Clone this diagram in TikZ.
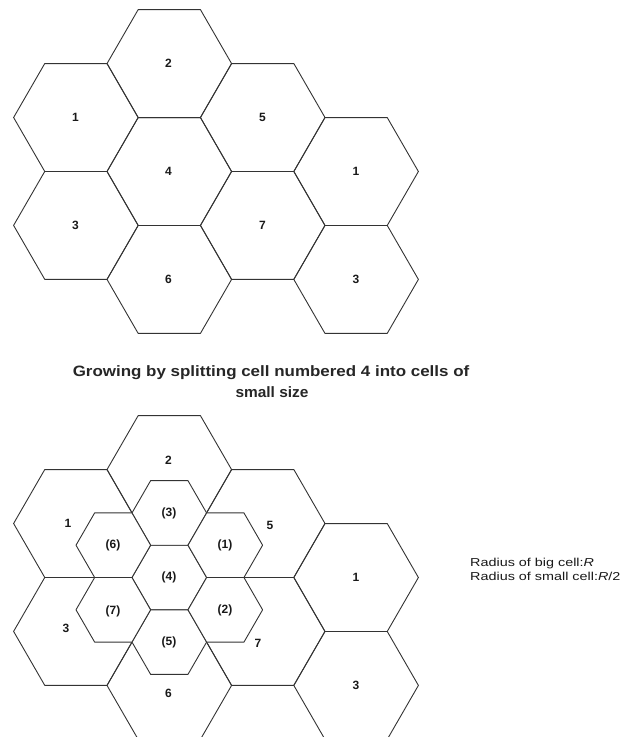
\documentclass[tikz,border=0pt]{standalone}
\usepackage{fontspec}
\setmainfont{Liberation Sans}
\usepackage{graphicx}
\begin{document}
\begin{tikzpicture}[x=1pt,y=-1pt,
  hexline/.style={draw=black!80, line width=0.9pt, line join=round},
  smallhex/.style={hexline, fill=white},
  lbl/.style={font=\fontsize{12}{12}\selectfont\bfseries, inner sep=0pt, text=black!90},
  captxt/.style={font=\fontsize{15}{15}\selectfont\bfseries, inner sep=0pt, text=black!85},
  sidetxt/.style={font=\fontsize{11.5}{11.5}\selectfont, inner sep=0pt, anchor=west, text=black!90}]
\useasboundingbox (0,0) rectangle (622,737);
\clip (0,0) rectangle (622,737);
\def\R{62.3}
\def\rr{37.3}
\def\XA{75.9}\def\XB{169.3}\def\XC{262.7}\def\XD{356.1}
% big cells, top and bottom diagram
\foreach \dy in {0,406}{
  \foreach \cx/\cy in {\XB/63.6, \XA/117.5, \XB/171.5, \XC/117.5, \XD/171.5, \XA/225.4, \XC/225.4, \XB/279.4, \XD/279.4}{
    \draw[hexline] (\cx,\cy+\dy) ++(0:\R) -- ++(120:\R) -- ++(180:\R) -- ++(240:\R) -- ++(300:\R) -- ++(0:\R) -- cycle;
  }
}
% small cells replacing cell 4
\foreach \ox/\oy in {0/0, 0/-64.6, 0/64.6, 56/-32.3, 56/32.3, -56/-32.3, -56/32.3}{
  \draw[smallhex] (\XB+\ox,577.5+\oy) ++(0:\rr) -- ++(120:\rr) -- ++(180:\rr) -- ++(240:\rr) -- ++(300:\rr) -- ++(0:\rr) -- cycle;
}
% labels top
\node[lbl] (t2) at (168.5,63) {2};
\node[lbl] (t1a) at (75.5,117.5) {1};
\node[lbl] (t4) at (168.5,171.5) {4};
\node[lbl] (t5) at (262.5,117.5) {5};
\node[lbl] (t1b) at (356,171.5) {1};
\node[lbl] (t3a) at (75.5,225.5) {3};
\node[lbl] (t7) at (262.5,225.5) {7};
\node[lbl] (t6) at (168.5,279.5) {6};
\node[lbl] (t3b) at (356,279.5) {3};
% caption
\node[captxt] (cap1) at (271,373) {\scalebox{1.13}[1]{Growing by splitting cell numbered 4 into cells of}};
\node[captxt] (cap2) at (272,392) {\scalebox{1.03}[1]{small size}};
% labels bottom
\node[lbl] (b2) at (168.5,460) {2};
\node[lbl] (b1a) at (68,523) {1};
\node[lbl] (b5) at (270,525) {5};
\node[lbl] (b1b) at (356,577) {1};
\node[lbl] (b3a) at (66,628) {3};
\node[lbl] (b7) at (258,643) {7};
\node[lbl] (b6) at (168.5,693) {6};
\node[lbl] (b3b) at (356,685) {3};
\node[lbl] (s3) at (169,513) {(3)};
\node[lbl] (s6) at (113,545) {(6)};
\node[lbl] (s1) at (225,545) {(1)};
\node[lbl] (s4) at (169,577) {(4)};
\node[lbl] (s7) at (113,611) {(7)};
\node[lbl] (s2) at (225,610) {(2)};
\node[lbl] (s5) at (169,642) {(5)};
% side text
\node[sidetxt] (r1) at (470,564) {\scalebox{1.25}[1]{Radius of big cell:\textit{R}}};
\node[sidetxt] (r2) at (470,576.5) {\scalebox{1.25}[1]{Radius of small cell:\textit{R}/2}};
\end{tikzpicture}
\end{document}
